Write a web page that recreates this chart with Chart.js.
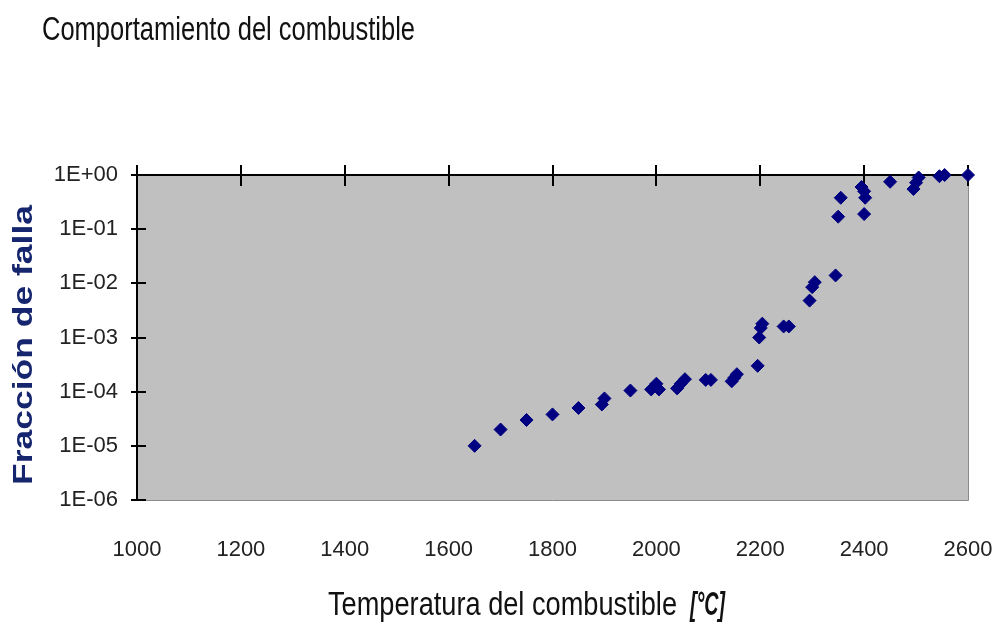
<!DOCTYPE html>
<html>
<head>
<meta charset="utf-8">
<script src="https://cdn.jsdelivr.net/npm/chart.js@4.4.1/dist/chart.umd.min.js"></script>
<style>
  html, body { margin: 0; padding: 0; background: #ffffff; }
  #wrap { width: 992px; height: 626px; position: relative; }
</style>
</head>
<body>
<div id="wrap"><canvas id="c" width="992" height="626"></canvas></div>
<script>
// ---- data ----
const chartTitle = 'Comportamiento del combustible';
const xTitleMain = 'Temperatura del combustible';
const xTitleUnit = '[°C]';
const yTitle = 'Fracción de falla';

const temperatures = [
  1650, 1700, 1750, 1800, 1850, 1895, 1900, 1950,
  1990, 2005, 2000, 2040, 2047, 2055, 2095, 2105,
  2145, 2150, 2155, 2195, 2198, 2201, 2204, 2245, 2255,
  2295, 2300, 2305, 2345, 2350, 2355,
  2395, 2400, 2402, 2400, 2450, 2495, 2500, 2505,
  2545, 2555, 2600
];
const failFraction = [
  1.0e-5, 2.0e-5, 3.0e-5, 3.8e-5, 5.0e-5, 5.8e-5, 7.5e-5, 1.05e-4,
  1.1e-4, 1.1e-4, 1.4e-4, 1.15e-4, 1.4e-4, 1.7e-4, 1.65e-4, 1.65e-4,
  1.55e-4, 1.8e-4, 2.1e-4, 3.0e-4, 1.0e-3, 1.5e-3, 1.8e-3, 1.6e-3, 1.6e-3,
  4.8e-3, 8.5e-3, 1.05e-2, 1.4e-2, 0.17, 0.38,
  0.6, 0.5, 0.38, 0.19, 0.75, 0.55, 0.72, 0.9,
  0.95, 1.0, 1.0
];
const xMin = 1000, xMax = 2600, xStep = 200;
const yTickValues = [1, 1e-1, 1e-2, 1e-3, 1e-4, 1e-5, 1e-6];

const points = temperatures.map((t, i) => ({ x: t, y: failFraction[i] }));

const ARIAL = "'Liberation Sans', Arial, sans-serif";

function sciLabel(v) {
  const e = Math.round(Math.log10(v));
  return '1E' + (e < 0 ? '-' : '+') + String(Math.abs(e)).padStart(2, '0');
}

// draw text squeezed to a given width (emulates a narrow face)
function fitText(ctx, text, x, y, width, font) {
  ctx.save();
  ctx.font = font;
  const w = ctx.measureText(text).width;
  ctx.translate(x, y);
  ctx.scale(width / w, 1);
  ctx.fillText(text, 0, 0);
  ctx.restore();
}

const decor = {
  id: 'decor',
  beforeDraw(chart) {
    const { ctx, chartArea: a } = chart;
    ctx.save();
    ctx.fillStyle = '#c0c0c0';
    ctx.fillRect(a.left, a.top, a.right - a.left, a.bottom - a.top);
    ctx.restore();
  },
  beforeDatasetsDraw(chart) {
    const { ctx, chartArea: a, scales } = chart;
    ctx.save();
    ctx.strokeStyle = '#8a8a8a';
    ctx.lineWidth = 1;
    ctx.beginPath();
    ctx.moveTo(a.right + 0.5, a.top);
    ctx.lineTo(a.right + 0.5, a.bottom + 0.5);
    ctx.lineTo(a.left, a.bottom + 0.5);
    ctx.stroke();
    ctx.strokeStyle = '#000';
    ctx.lineWidth = 2;
    ctx.beginPath();
    ctx.moveTo(a.left, a.top);
    ctx.lineTo(a.right, a.top);
    ctx.moveTo(a.left, a.top);
    ctx.lineTo(a.left, a.bottom);
    ctx.stroke();
    ctx.beginPath();
    scales.x.ticks.forEach((t, i) => {
      const px = Math.round(scales.x.getPixelForTick(i));
      ctx.moveTo(px, a.top - 10);
      ctx.lineTo(px, a.top + 11);
    });
    scales.y.ticks.forEach((t, i) => {
      const py = Math.round(scales.y.getPixelForTick(i));
      ctx.moveTo(a.left - 6, py);
      ctx.lineTo(a.left + 9, py);
    });
    ctx.stroke();
    ctx.restore();
  },
  afterDraw(chart) {
    const { ctx } = chart;
    ctx.save();
    ctx.fillStyle = '#111';
    ctx.textBaseline = 'alphabetic';
    ctx.textAlign = 'left';
    fitText(ctx, chartTitle, 42, 40, 373, '34px ' + ARIAL);
    fitText(ctx, xTitleMain, 328, 615, 349, '34px ' + ARIAL);
    fitText(ctx, xTitleUnit, 690, 615, 35, 'italic bold 34px ' + ARIAL);
    // y-axis title, rotated
    ctx.save();
    ctx.fillStyle = '#16266e';
    ctx.translate(32, 345);
    ctx.rotate(-Math.PI / 2);
    ctx.textAlign = 'center';
    ctx.font = 'bold 27px ' + ARIAL;
    const w = ctx.measureText(yTitle).width;
    ctx.scale(280 / w, 1);
    ctx.fillText(yTitle, 0, 0);
    ctx.restore();
    ctx.restore();
  }
};

new Chart(document.getElementById('c'), {
  type: 'scatter',
  data: {
    datasets: [{
      data: points,
      pointStyle: 'rectRot',
      pointRadius: 6.5,
      pointHoverRadius: 6.5,
      backgroundColor: '#000080',
      borderColor: '#000080',
      borderWidth: 1,
      clip: false
    }]
  },
  options: {
    responsive: false,
    animation: false,
    devicePixelRatio: 1,
    layout: { padding: { left: 0, right: 24, top: 175, bottom: 0 } },
    plugins: {
      legend: { display: false },
      title: { display: false },
      tooltip: { enabled: false }
    },
    scales: {
      x: {
        type: 'linear',
        min: xMin, max: xMax,
        grid: { display: false, drawTicks: false },
        border: { display: false },
        ticks: {
          stepSize: xStep,
          padding: 37,
          maxRotation: 0,
          autoSkip: false,
          color: '#222',
          font: { family: ARIAL, size: 22 },
          callback: v => String(v)
        },
        afterFit(scale) {
          scale.height = 126;
          scale.paddingLeft = 0;
          scale.paddingRight = 0;
        }
      },
      y: {
        type: 'logarithmic',
        min: 1e-6, max: 1,
        grid: { display: false, drawTicks: false },
        border: { display: false },
        afterBuildTicks(scale) {
          scale.ticks = yTickValues.map(v => ({ value: v }));
        },
        ticks: {
          padding: 19,
          autoSkip: false,
          color: '#222',
          font: { family: ARIAL, size: 22 },
          callback: v => sciLabel(v)
        },
        afterFit(scale) {
          scale.width = 137;
          scale.paddingTop = 0;
          scale.paddingBottom = 0;
        }
      }
    }
  },
  plugins: [decor]
});
</script>
</body>
</html>
